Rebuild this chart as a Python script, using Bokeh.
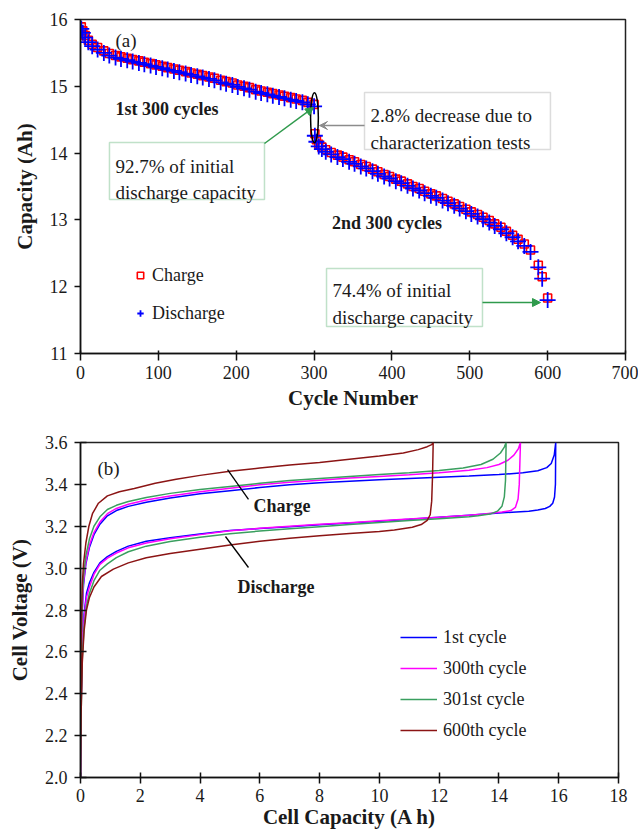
from bokeh.plotting import figure
from bokeh.layouts import column
from bokeh.models import (Legend, LegendItem, FixedTicker, PrintfTickFormatter, Label,
                          BoxAnnotation, Arrow, NormalHead, VeeHead)
from bokeh.embed import file_html
from bokeh.resources import INLINE

SERIF = "Liberation Serif"
INK = "#1a1a1a"
GREEN = "#2f9a4c"
GRAY = "#8c8c8c"

# ---------------- (a) capacity fade over 600 cycles ----------------
cycles_1 = [1, 3, 6, 10, 15, 22, 30, 37, 45, 52, 60, 67, 75, 82, 90, 97, 105, 112, 120, 127,
            135, 142, 150, 157, 165, 172, 180, 187, 195, 202, 210, 217, 225, 232, 240, 247,
            255, 262, 270, 277, 285, 292, 300]
discharge_1 = [15.86, 15.80, 15.73, 15.66, 15.60, 15.55, 15.50, 15.46, 15.43, 15.41, 15.39,
               15.37, 15.35, 15.33, 15.31, 15.29, 15.27, 15.25, 15.23, 15.21, 15.19, 15.17,
               15.15, 15.13, 15.11, 15.09, 15.06, 15.04, 15.02, 14.99, 14.97, 14.95, 14.92,
               14.90, 14.88, 14.86, 14.84, 14.82, 14.80, 14.78, 14.76, 14.73, 14.70]
charge_1 = [15.89, 15.83, 15.76, 15.69, 15.63, 15.58, 15.53, 15.49, 15.46, 15.44, 15.42,
            15.40, 15.38, 15.36, 15.34, 15.32, 15.30, 15.28, 15.26, 15.24, 15.22, 15.20,
            15.18, 15.16, 15.14, 15.12, 15.09, 15.07, 15.05, 15.02, 15.00, 14.98, 14.95,
            14.93, 14.91, 14.89, 14.87, 14.85, 14.83, 14.81, 14.79, 14.76, 14.73]

cycles_2 = [301, 303, 306, 310, 315, 322, 330, 337, 345, 352, 360, 367, 375, 382, 390, 397,
            405, 412, 420, 427, 435, 442, 450, 457, 465, 472, 480, 487, 495, 502, 510, 517,
            525, 532, 540, 547, 555, 562, 570, 578, 588, 593, 600]
discharge_2 = [14.26, 14.17, 14.10, 14.06, 14.02, 13.98, 13.94, 13.91, 13.87, 13.84, 13.80,
               13.77, 13.73, 13.69, 13.65, 13.62, 13.58, 13.55, 13.51, 13.47, 13.44, 13.40,
               13.36, 13.33, 13.29, 13.25, 13.21, 13.17, 13.13, 13.09, 13.05, 13.01, 12.96,
               12.91, 12.86, 12.80, 12.74, 12.68, 12.61, 12.52, 12.29, 12.12, 11.80]
charge_2 = [14.29, 14.20, 14.13, 14.09, 14.05, 14.01, 13.97, 13.94, 13.90, 13.87, 13.83,
            13.80, 13.76, 13.72, 13.68, 13.65, 13.61, 13.58, 13.54, 13.50, 13.47, 13.43,
            13.39, 13.36, 13.32, 13.28, 13.24, 13.20, 13.16, 13.12, 13.08, 13.04, 12.99,
            12.94, 12.89, 12.83, 12.77, 12.71, 12.64, 12.55, 12.32, 12.15, 11.83]

cycle_ticks = [0, 100, 200, 300, 400, 500, 600, 700]
capacity_ticks = [11, 12, 13, 14, 15, 16]

# ---------------- (b) voltage profiles of selected cycles ----------------
# each profile: charge from 0 Ah up to full, then discharge back to 0 Ah
cyc1_cap = [0, 0.01, 0.03, 0.06, 0.1, 0.18, 0.3, 0.45, 0.65, 0.9, 1.2, 1.6, 2.2, 3, 4, 5, 6,
            7, 8, 9, 10, 11, 12, 13, 14, 14.8, 15.3, 15.6, 15.75, 15.85, 15.9,
            15.89, 15.86, 15.8, 15.7, 15.55, 15.3, 15, 14, 13, 12, 11, 10, 9, 8, 7, 6, 5, 4,
            3, 2.2, 1.6, 1.2, 0.9, 0.65, 0.45, 0.3, 0.2, 0.12, 0.06, 0.02, 0]
cyc1_volt = [2.0, 2.3, 2.6, 2.8, 2.92, 3.02, 3.1, 3.16, 3.21, 3.25, 3.275, 3.295, 3.315,
             3.335, 3.355, 3.37, 3.385, 3.398, 3.408, 3.415, 3.422, 3.428, 3.434, 3.44,
             3.447, 3.455, 3.465, 3.48, 3.5, 3.54, 3.6,
             3.4, 3.34, 3.31, 3.295, 3.285, 3.278, 3.272, 3.263, 3.253, 3.243, 3.233, 3.224,
             3.215, 3.207, 3.198, 3.189, 3.18, 3.163, 3.145, 3.128, 3.105, 3.08, 3.055, 3.025,
             2.98, 2.93, 2.88, 2.78, 2.62, 2.35, 2.0]

cyc300_cap = [0, 0.01, 0.03, 0.06, 0.1, 0.18, 0.3, 0.45, 0.65, 0.9, 1.2, 1.6, 2.2, 3, 4, 5,
              6, 7, 8, 9, 10, 11, 12, 13, 13.6, 14.0, 14.3, 14.5, 14.65, 14.72,
              14.68, 14.64, 14.55, 14.4, 14.1, 13.5, 13, 12, 11, 10, 9, 8, 7, 6, 5, 4, 3,
              2.2, 1.6, 1.2, 0.9, 0.65, 0.45, 0.3, 0.2, 0.12, 0.06, 0.02, 0]
cyc300_volt = [2.0, 2.3, 2.6, 2.8, 2.93, 3.03, 3.11, 3.17, 3.22, 3.26, 3.285, 3.305, 3.325,
               3.345, 3.365, 3.382, 3.398, 3.41, 3.42, 3.43, 3.438, 3.446, 3.455, 3.468,
               3.48, 3.495, 3.515, 3.54, 3.57, 3.6,
               3.4, 3.33, 3.29, 3.275, 3.268, 3.258, 3.252, 3.243, 3.235, 3.226, 3.217,
               3.209, 3.2, 3.19, 3.178, 3.16, 3.14, 3.12, 3.097, 3.072, 3.048, 3.018, 2.97,
               2.91, 2.86, 2.76, 2.6, 2.33, 2.0]

cyc301_cap = [0, 0.01, 0.03, 0.06, 0.1, 0.18, 0.3, 0.45, 0.65, 0.9, 1.2, 1.6, 2.2, 3, 4, 5,
              6, 7, 8, 9, 10, 11, 12, 12.8, 13.4, 13.8, 14.05, 14.18, 14.24,
              14.22, 14.18, 14.1, 13.95, 13.7, 13.3, 13, 12, 11, 10, 9, 8, 7, 6, 5, 4, 3,
              2.2, 1.6, 1.2, 0.9, 0.65, 0.45, 0.3, 0.2, 0.12, 0.06, 0.02, 0]
cyc301_volt = [2.0, 2.35, 2.65, 2.85, 2.96, 3.06, 3.14, 3.2, 3.245, 3.28, 3.3, 3.318, 3.337,
               3.357, 3.375, 3.39, 3.405, 3.418, 3.428, 3.438, 3.447, 3.456, 3.466, 3.478,
               3.495, 3.52, 3.55, 3.578, 3.6,
               3.42, 3.34, 3.295, 3.272, 3.258, 3.25, 3.245, 3.236, 3.227, 3.218, 3.208,
               3.198, 3.188, 3.177, 3.164, 3.148, 3.127, 3.105, 3.078, 3.05, 3.02, 2.99,
               2.94, 2.88, 2.82, 2.72, 2.57, 2.3, 2.0]

cyc600_cap = [0, 0.01, 0.03, 0.06, 0.1, 0.18, 0.28, 0.4, 0.6, 0.9, 1.3, 1.8, 2.5, 3.2, 4, 5,
              6, 7, 8, 9, 10, 10.8, 11.3, 11.6, 11.75, 11.8,
              11.78, 11.75, 11.7, 11.6, 11.4, 11.1, 10.5, 10, 9, 8, 7, 6, 5, 4, 3, 2.2, 1.6,
              1.1, 0.7, 0.45, 0.3, 0.2, 0.12, 0.06, 0.02, 0]
cyc600_volt = [2.0, 2.45, 2.75, 2.92, 3.02, 3.12, 3.2, 3.26, 3.31, 3.345, 3.365, 3.38, 3.405,
               3.425, 3.443, 3.463, 3.478, 3.493, 3.505, 3.52, 3.535, 3.55, 3.566, 3.58,
               3.59, 3.6,
               3.45, 3.32, 3.255, 3.228, 3.208, 3.195, 3.182, 3.175, 3.165, 3.155, 3.143,
               3.128, 3.11, 3.09, 3.07, 3.05, 3.025, 2.995, 2.96, 2.91, 2.86, 2.8, 2.7, 2.55,
               2.3, 2.0]

cell_cap_ticks = [0, 2, 4, 6, 8, 10, 12, 14, 16, 18]
voltage_ticks = [2.0, 2.2, 2.4, 2.6, 2.8, 3.0, 3.2, 3.4, 3.6]

profile_names = ["1st cycle", "300th cycle", "301st cycle", "600th cycle"]
profile_colors = ["#0000ff", "#ff00ff", "#3a9f5f", "#8b1414"]


def style_axes(p, x_in, x_out, y_in, y_out):
    p.xgrid.visible = False
    p.ygrid.visible = False
    p.outline_line_color = "#222222"
    p.outline_line_width = 1.5
    for ax, t_in, t_out in ((p.xaxis[0], x_in, x_out), (p.yaxis[0], y_in, y_out)):
        ax.axis_line_color = "#111111"
        ax.axis_line_width = 1.5
        ax.major_tick_line_color = "#111111"
        ax.major_tick_line_width = 1.5
        ax.major_tick_in = t_in
        ax.major_tick_out = t_out
        ax.minor_tick_line_color = None
        ax.major_label_text_font = SERIF
        ax.major_label_text_font_size = "18px"
        ax.major_label_text_color = INK
        ax.major_label_standoff = 7
        ax.axis_label_text_font = SERIF
        ax.axis_label_text_font_size = "21px"
        ax.axis_label_text_font_style = "bold"
        ax.axis_label_text_color = INK
        ax.axis_label_standoff = 10


def text(p, x, y, s, bold=False, size="18px"):
    p.add_layout(Label(x=x, y=y, text=s, text_font=SERIF, text_font_size=size,
                       text_font_style="bold" if bold else "normal",
                       text_color=INK, text_baseline="alphabetic"))


# ================= panel (a) =================
p1 = figure(frame_width=545, frame_height=334, x_range=(0, 700), y_range=(11, 16),
            output_backend="svg", toolbar_location=None,
            min_border_left=80, min_border_right=13, min_border_top=19, min_border_bottom=57,
            x_axis_label="Cycle Number", y_axis_label="Capacity (Ah)")
style_axes(p1, 3, 7, 0, 6)
p1.xaxis.major_label_standoff = 5
p1.xaxis.axis_label_standoff = 4
p1.xaxis.ticker = FixedTicker(ticks=cycle_ticks)
p1.yaxis.ticker = FixedTicker(ticks=capacity_ticks)

r_ch = p1.scatter(cycles_1 + cycles_2, charge_1 + charge_2, marker="square", size=8,
                  fill_alpha=0, line_color="#ff0000", line_width=1.6)
r_dis = p1.scatter(cycles_1 + cycles_2, discharge_1 + discharge_2, marker="cross", size=16,
                   line_color="#0000ff", line_width=1.8)

leg1 = Legend(items=[LegendItem(label="Charge", renderers=[r_ch]),
                     LegendItem(label="Discharge", renderers=[r_dis])],
              location=(52, 29), orientation="vertical",
              border_line_alpha=0, background_fill_alpha=0, padding=0, margin=0,
              glyph_width=16, glyph_height=22, label_height=22, spacing=16,
              label_standoff=4, label_text_font=SERIF, label_text_font_size="18px",
              label_text_color=INK)
p1.add_layout(leg1)

# characterization-test gap marker
p1.ellipse(x=300.5, y=14.53, width=10, height=0.75, fill_alpha=0,
           line_color="black", line_width=1.5)

text(p1, 45, 15.686, "(a)", size="19px")
text(p1, 45, 14.663, "1st 300 cycles", bold=True)
text(p1, 323, 12.956, "2nd 300 cycles", bold=True)

# 92.7 % call-out
p1.add_layout(BoxAnnotation(left=37.2, right=236.3, top=14.16, bottom=13.305,
                            fill_color="white", fill_alpha=1, line_color=GREEN,
                            line_width=1.5))
text(p1, 45, 13.80, "92.7% of initial", size="19px")
text(p1, 45, 13.41, "discharge capacity", size="19px")
p1.add_layout(Arrow(x_start=236.3, y_start=14.144, x_end=299.3, y_end=14.683,
                    line_color=GREEN, line_width=1.5,
                    end=NormalHead(size=8, fill_color=GREEN, line_color=GREEN)))

# 2.8 % call-out
p1.add_layout(BoxAnnotation(left=364.8, right=603.6, top=14.907, bottom=14.054,
                            fill_color="white", fill_alpha=1, line_color=GRAY,
                            line_width=1.5))
text(p1, 372.5, 14.563, "2.8% decrease due to", size="19px")
text(p1, 372.5, 14.163, "characterization tests", size="19px")
p1.add_layout(Arrow(x_start=364.8, y_start=14.413, x_end=307, y_end=14.413,
                    line_color=GRAY, line_width=1.5,
                    end=VeeHead(size=8, fill_color=GRAY, line_color=GRAY)))

# 74.4 % call-out
p1.add_layout(BoxAnnotation(left=316, right=516.3, top=12.272, bottom=11.404,
                            fill_color="white", fill_alpha=1, line_color=GREEN,
                            line_width=1.5))
text(p1, 323.6, 11.943, "74.4% of initial", size="19px")
text(p1, 323.6, 11.539, "discharge capacity", size="19px")
p1.add_layout(Arrow(x_start=516.3, y_start=11.763, x_end=590.8, y_end=11.763,
                    line_color=GREEN, line_width=1.5,
                    end=NormalHead(size=8, fill_color=GREEN, line_color=GREEN)))

# ================= panel (b) =================
p2 = figure(frame_width=538, frame_height=335, x_range=(0, 18), y_range=(2.0, 3.6),
            output_backend="svg", toolbar_location=None,
            min_border_left=80, min_border_right=20, min_border_top=30, min_border_bottom=55,
            x_axis_label="Cell Capacity (A h)", y_axis_label="Cell Voltage (V)")
style_axes(p2, 5, 6, 6, 6)
p2.xaxis.major_label_standoff = 5
p2.xaxis.axis_label_standoff = 0
p2.xaxis.ticker = FixedTicker(ticks=cell_cap_ticks)
p2.yaxis.ticker = FixedTicker(ticks=voltage_ticks)
p2.yaxis.formatter = PrintfTickFormatter(format="%.1f")

profiles = [(cyc1_cap, cyc1_volt), (cyc300_cap, cyc300_volt),
            (cyc301_cap, cyc301_volt), (cyc600_cap, cyc600_volt)]
items = []
for (cap, volt), name, color in zip(profiles, profile_names, profile_colors):
    r = p2.line(cap, volt, line_color=color, line_width=1.5)
    items.append(LegendItem(label=name, renderers=[r]))

leg2 = Legend(items=items, location=(320, 36), orientation="vertical",
              border_line_alpha=0, background_fill_alpha=0, padding=0, margin=0,
              glyph_width=37, glyph_height=22, label_height=22, spacing=9,
              label_standoff=6, label_text_font=SERIF, label_text_font_size="18px",
              label_text_color=INK)
p2.add_layout(leg2)

text(p2, 0.57, 3.476, "(b)", size="19px")
text(p2, 5.79, 3.299, "Charge", bold=True)
text(p2, 5.25, 2.908, "Discharge", bold=True)
p2.add_layout(Arrow(x_start=5.62, y_start=3.328, x_end=4.92, y_end=3.471,
                    line_color="black", line_width=1.3, end=None))
p2.add_layout(Arrow(x_start=5.62, y_start=3.003, x_end=4.85, y_end=3.151,
                    line_color="black", line_width=1.3, end=None))

layout = column(p1, p2, spacing=0)
open("out.html", "w").write(file_html(layout, INLINE, title="Capacity fade and voltage profiles"))
